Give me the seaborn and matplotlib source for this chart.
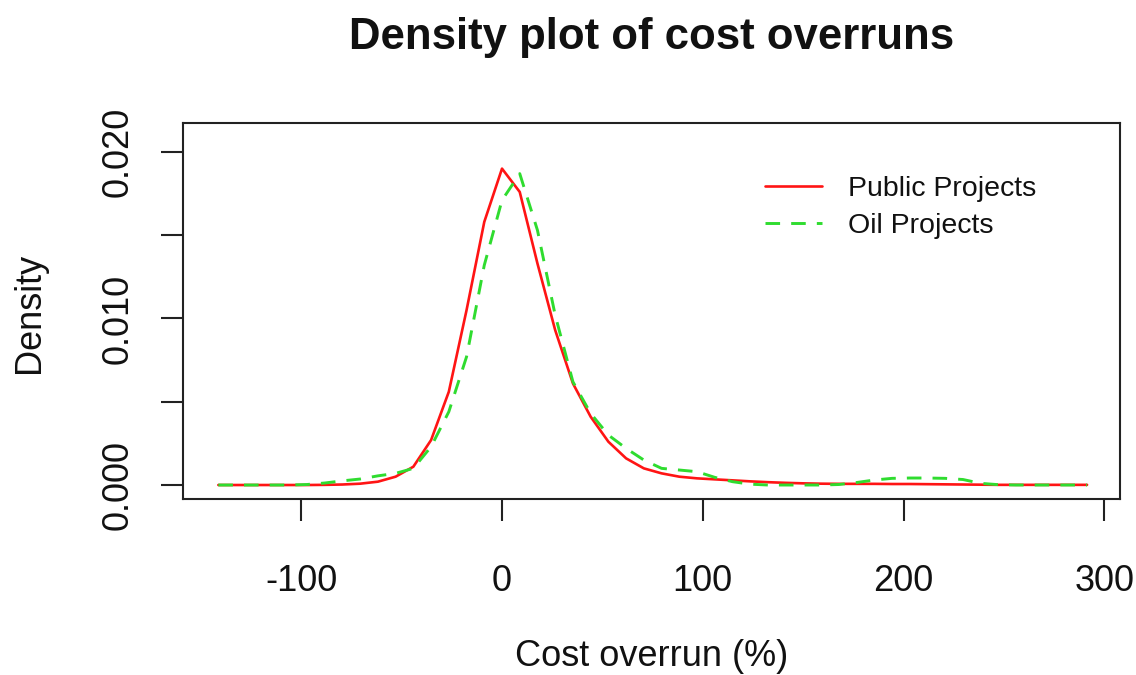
import numpy as np
import pandas as pd
import matplotlib
matplotlib.use("Agg")
import matplotlib.pyplot as plt
import seaborn as sns

# Kernel density estimates of cost overruns (%), evaluated on a common 50-point grid
grid_start, grid_end, grid_n = -141.3, 291.4, 50

public_density = [
    0.0, 0.0, 0.0, 0.0, 0.0, 0.0, 0.00001, 0.00003, 0.00008, 0.0002,
    0.0005, 0.0011, 0.0027, 0.0056, 0.0105, 0.0158, 0.0190, 0.0176, 0.0133, 0.0093,
    0.0061, 0.0041, 0.0026, 0.0016, 0.0010, 0.0007, 0.0005, 0.0004, 0.00034, 0.00028,
    0.00022, 0.00017, 0.00013, 0.0001, 0.00008, 0.00007, 0.00007, 0.00007, 0.00006, 0.00006,
    0.00005, 0.00004, 0.00003, 0.00002, 0.00001, 0.00001, 0.00001, 0.00001, 0.00001, 0.00001,
]

oil_density = [
    0.0, 0.0, 0.0, 0.0, 0.0, 0.00003, 0.00012, 0.00025, 0.00036, 0.00055,
    0.0007, 0.001, 0.0023, 0.0044, 0.0077, 0.0132, 0.0171, 0.0187, 0.0153, 0.0102,
    0.0062, 0.0043, 0.0030, 0.0022, 0.0015, 0.0010, 0.0009, 0.0008, 0.00046, 0.0002,
    0.00005, 0.0, 0.0, 0.0, 0.0, 0.00003, 0.00015, 0.0003, 0.0004, 0.00042,
    0.00042, 0.0004, 0.00033, 0.0001, 0.00002, 0.0, 0.0, 0.0, 0.0, 0.0,
]

series_names = ["Public Projects", "Oil Projects"]
x_ticks = [-100, 0, 100, 200, 300]
y_ticks = [0.0, 0.005, 0.010, 0.015, 0.020]
y_tick_labels = ["0.000", "", "0.010", "", "0.020"]

grid = np.linspace(grid_start, grid_end, grid_n)
df = pd.DataFrame({
    "overrun": np.concatenate([grid, grid]),
    "density": public_density + oil_density,
    "series": [series_names[0]] * grid_n + [series_names[1]] * grid_n,
})

sns.set_style("white")
plt.rcParams["font.family"] = ["Liberation Sans", "DejaVu Sans"]

W, H = 1136, 675
fig = plt.figure(figsize=(W / 100, H / 100), dpi=100)
ax = fig.add_axes([183 / W, 1 - 499 / H, (1120 - 183) / W, (499 - 123) / H])

red = "#ff1414"
green = "#2fdc2f"

sns.lineplot(data=df[df.series == series_names[0]], x="overrun", y="density",
             color=red, lw=1.9, ax=ax, label=series_names[0])
sns.lineplot(data=df[df.series == series_names[1]], x="overrun", y="density",
             color=green, lw=2.1, ax=ax, label=series_names[1], dashes=False)
ax.lines[1].set_dashes((5.0, 3.8))

ax.set_xlim(-158.9, 307.8)
ax.set_ylim(-0.00084, 0.02174)

ax.set_xticks(x_ticks)
ax.set_xticklabels([str(t) for t in x_ticks])
ax.set_yticks(y_ticks)
ax.set_yticklabels(y_tick_labels)

for side in ["left", "right", "top", "bottom"]:
    ax.spines[side].set_visible(True)
    ax.spines[side].set_color("#222222")
    ax.spines[side].set_linewidth(1.5)

ax.tick_params(axis="both", which="both", direction="out", length=16, width=1.5,
               color="#222222", labelsize=26, labelcolor="#111111",
               bottom=True, left=True)
ax.tick_params(axis="x", pad=31)
ax.tick_params(axis="y", pad=18)
for lbl in ax.get_yticklabels():
    lbl.set_rotation(90)
    lbl.set_va("center")

ax.set_xlabel("Cost overrun (%)", fontsize=26, color="#111111")
ax.set_ylabel("Density", fontsize=26, color="#111111")
ax.xaxis.set_label_coords(0.5, (499 - 657) / 376)
ax.xaxis.label.set_va("center")
ax.yaxis.set_label_coords((30 - 183) / 937, (499 - 313) / 376)
ax.yaxis.label.set_va("center")
ax.yaxis.label.set_ha("center")

fig.text(651.5 / W, 1 - 38 / H, "Density plot of cost overruns", fontsize=31.5,
         fontweight="bold", ha="center", va="center", color="#111111")

leg = ax.legend(loc="upper left", bbox_to_anchor=(765 / W, 1 - 176 / H),
                bbox_transform=fig.transFigure, frameon=False, fontsize=20.5,
                handlelength=2.0, handletextpad=0.9, labelspacing=0.4,
                borderpad=0, borderaxespad=0)
for t in leg.get_texts():
    t.set_color("#111111")

fig.savefig("out.png", dpi=100)
